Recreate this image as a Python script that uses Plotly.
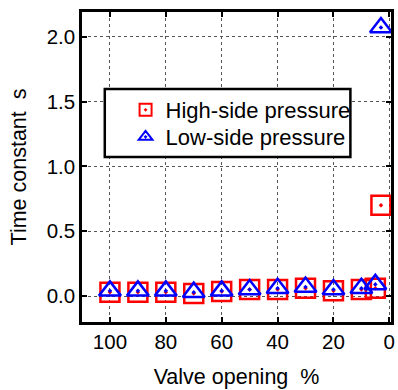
import plotly.graph_objects as go

valve_opening = [100, 90, 80, 70, 60, 50, 40, 30, 20, 10, 5, 3]
high_side = [0.03, 0.03, 0.03, 0.02, 0.035, 0.05, 0.05, 0.06, 0.04, 0.05, 0.06, 0.70]
low_side = [0.04, 0.04, 0.04, 0.03, 0.04, 0.05, 0.06, 0.07, 0.05, 0.06, 0.09, 2.07]

x_ticks = [100, 80, 60, 40, 20, 0]
y_ticks = [0.0, 0.5, 1.0, 1.5, 2.0]

FONT = "Arial, Liberation Sans, sans-serif"

fig = go.Figure()
fig.add_trace(go.Scatter(
    x=valve_opening, y=high_side, mode="markers", name="High-side pressure",
    marker=dict(symbol="square-open-dot", size=19, color="#ff0000",
                line=dict(width=2.5, color="#ff0000")),
    legend="legend",
))
fig.add_trace(go.Scatter(
    x=valve_opening, y=low_side, mode="markers", name="Low-side pressure",
    marker=dict(symbol="triangle-up-open-dot", size=19, color="#0000ff",
                line=dict(width=2.5, color="#0000ff")),
    legend="legend2",
))

L, R, T, B = 82, 4, 12, 68
W, H = 398, 390
pw, ph = W - L - R, H - T - B

def px_x(p):
    return (p - L) / pw

def px_y(p):
    return (H - B - p) / ph

fig.add_shape(type="rect", xref="paper", yref="paper",
              x0=px_x(105), x1=px_x(353), y0=px_y(157), y1=px_y(89),
              fillcolor="white", line=dict(color="black", width=2.5), layer="above")

axis_common = dict(
    showline=True, linecolor="black", linewidth=2.5, mirror="ticks",
    ticks="inside", ticklen=5, tickwidth=1.5, tickcolor="black",
    showgrid=True, gridcolor="#555555", griddash="dot", gridwidth=1,
    zeroline=False, tickfont=dict(family=FONT, size=20.5, color="black"),
)

fig.update_xaxes(range=[110, -0.6], tickvals=x_ticks,
                 title=dict(text="Valve opening  %", font=dict(family=FONT, size=21.5, color="black"), standoff=17),
                 **axis_common)
fig.update_yaxes(range=[-0.2, 2.19], tickvals=y_ticks, tickformat=".1f",
                 title=dict(text="Time constant  s", font=dict(family=FONT, size=21.5, color="black"), standoff=15),
                 **axis_common)

legend_common = dict(xanchor="left", yanchor="top",
                     bgcolor="rgba(0,0,0,0)", borderwidth=0,
                     itemsizing="constant",
                     font=dict(family=FONT, size=22, color="black"))

fig.update_layout(
    width=W, height=H,
    margin=dict(l=L, r=R, t=T, b=B),
    paper_bgcolor="white", plot_bgcolor="white",
    font=dict(family=FONT, size=20, color="black"),
    showlegend=True,
    legend=dict(x=px_x(126), y=px_y(89), **legend_common),
    legend2=dict(x=px_x(126), y=px_y(116), **legend_common),
)

fig.write_html("out.html")
